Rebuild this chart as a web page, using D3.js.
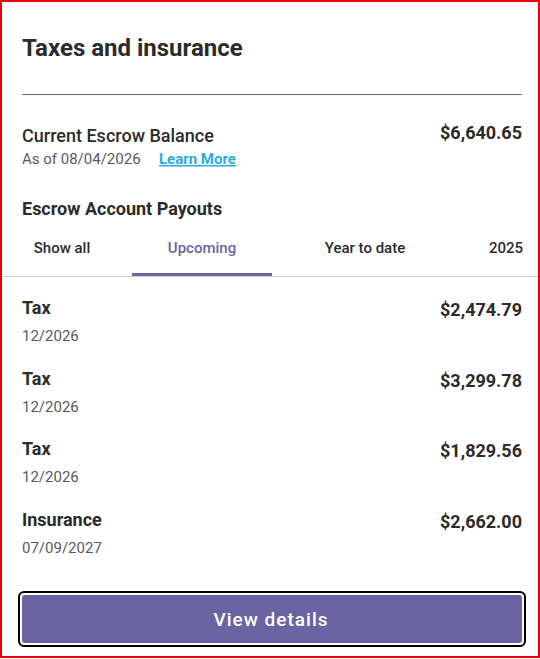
<!DOCTYPE html>
<html><head><meta charset="utf-8">
<script src="https://cdn.jsdelivr.net/npm/d3@7"></script>
<style>body{margin:0;background:#fff}svg{display:block;font-family:Roboto,sans-serif}</style>
</head><body><svg></svg>
<script>
var width = 540, height = 659;

// data
var balanceLabel = "Current Escrow Balance";
var balanceDate = "08/04/2026";
var balanceValue = 6640.65;
var tabs = ["Show all", "Upcoming", "Year to date", "2025"];
var activeTab = "Upcoming";
var payoutTypes = ["Tax", "Tax", "Tax", "Insurance"];
var payoutDates = ["12/2026", "12/2026", "12/2026", "07/09/2027"];
var payoutAmounts = [2474.79, 3299.78, 1829.56, 2662.00];

var money = d3.format("$,.2f");
var purple = "#6a64a3", dark = "#2b2b2b", grey = "#5a5a5a";

var svg = d3.select("svg").attr("width", width).attr("height", height);

// outer red frame
svg.append("rect").attr("x", 1).attr("y", 1).attr("width", width - 2).attr("height", height - 3)
    .attr("fill", "none").attr("stroke", "#e00").attr("stroke-width", 2);

svg.append("text").attr("x", 22).attr("y", 56).text("Taxes and insurance")
    .attr("font-size", 24).attr("font-weight", 700).attr("fill", dark);

svg.append("line").attr("x1", 22).attr("x2", 522).attr("y1", 94.5).attr("y2", 94.5)
    .attr("stroke", purple).attr("stroke-width", 1);

svg.append("text").attr("x", 22).attr("y", 142).text(balanceLabel)
    .attr("font-size", 18).attr("font-weight", 500).attr("fill", dark);
svg.append("text").attr("x", 522).attr("y", 139).attr("text-anchor", "end").text(money(balanceValue))
    .attr("font-size", 18).attr("font-weight", 700).attr("fill", dark);
var asof = svg.append("text").attr("x", 22).attr("y", 164).attr("font-size", 15).attr("fill", grey);
asof.append("tspan").text("As of " + balanceDate);
asof.append("tspan").attr("x", 159).text("Learn More").attr("fill", "#29abe2")
    .attr("font-weight", 700).attr("text-decoration", "underline");

svg.append("text").attr("x", 22).attr("y", 215).text("Escrow Account Payouts")
    .attr("font-size", 18).attr("font-weight", 700).attr("fill", dark);

// tabs
var tabX = d3.scalePoint().domain(tabs).range([62, 496]);
var tabCenters = {"Show all": 62, "Upcoming": 202, "Year to date": 365, "2025": 506};
svg.selectAll("text.tab").data(tabs).enter().append("text").attr("class", "tab")
    .attr("x", (d) => tabCenters[d]).attr("y", 253).attr("text-anchor", "middle")
    .attr("font-size", 15).attr("font-weight", 500)
    .attr("fill", (d) => d === activeTab ? purple : dark).text((d) => d);
svg.append("line").attr("x1", 2).attr("x2", 538).attr("y1", 276.5).attr("y2", 276.5)
    .attr("stroke", "#cfcfcf");
svg.append("rect").attr("x", 132).attr("y", 273).attr("width", 140).attr("height", 3).attr("fill", purple);

// payout rows
var rowY = d3.scaleLinear().domain([0, 3]).range([314, 526]);
var rows = svg.selectAll("g.row").data(payoutTypes).enter().append("g")
    .attr("transform", (d, i) => "translate(0," + rowY(i) + ")");
rows.append("text").attr("x", 22).text((d) => d)
    .attr("font-size", 18).attr("font-weight", 700).attr("fill", dark);
rows.append("text").attr("x", 22).attr("y", 27).text((d, i) => payoutDates[i])
    .attr("font-size", 15).attr("fill", grey);
rows.append("text").attr("x", 522).attr("y", 2).attr("text-anchor", "end")
    .text((d, i) => money(payoutAmounts[i]))
    .attr("font-size", 18).attr("font-weight", 700).attr("fill", dark);

// button
svg.append("rect").attr("x", 19).attr("y", 592).attr("width", 506).attr("height", 54).attr("rx", 5)
    .attr("fill", "#fff").attr("stroke", "#000").attr("stroke-width", 2);
svg.append("rect").attr("x", 22).attr("y", 595).attr("width", 500).attr("height", 48).attr("rx", 3)
    .attr("fill", purple);
svg.append("text").attr("x", 271).attr("y", 626).attr("text-anchor", "middle").text("View details")
    .attr("font-size", 19).attr("font-weight", 500).attr("letter-spacing", 1).attr("fill", "#fff");
</script></body></html>
